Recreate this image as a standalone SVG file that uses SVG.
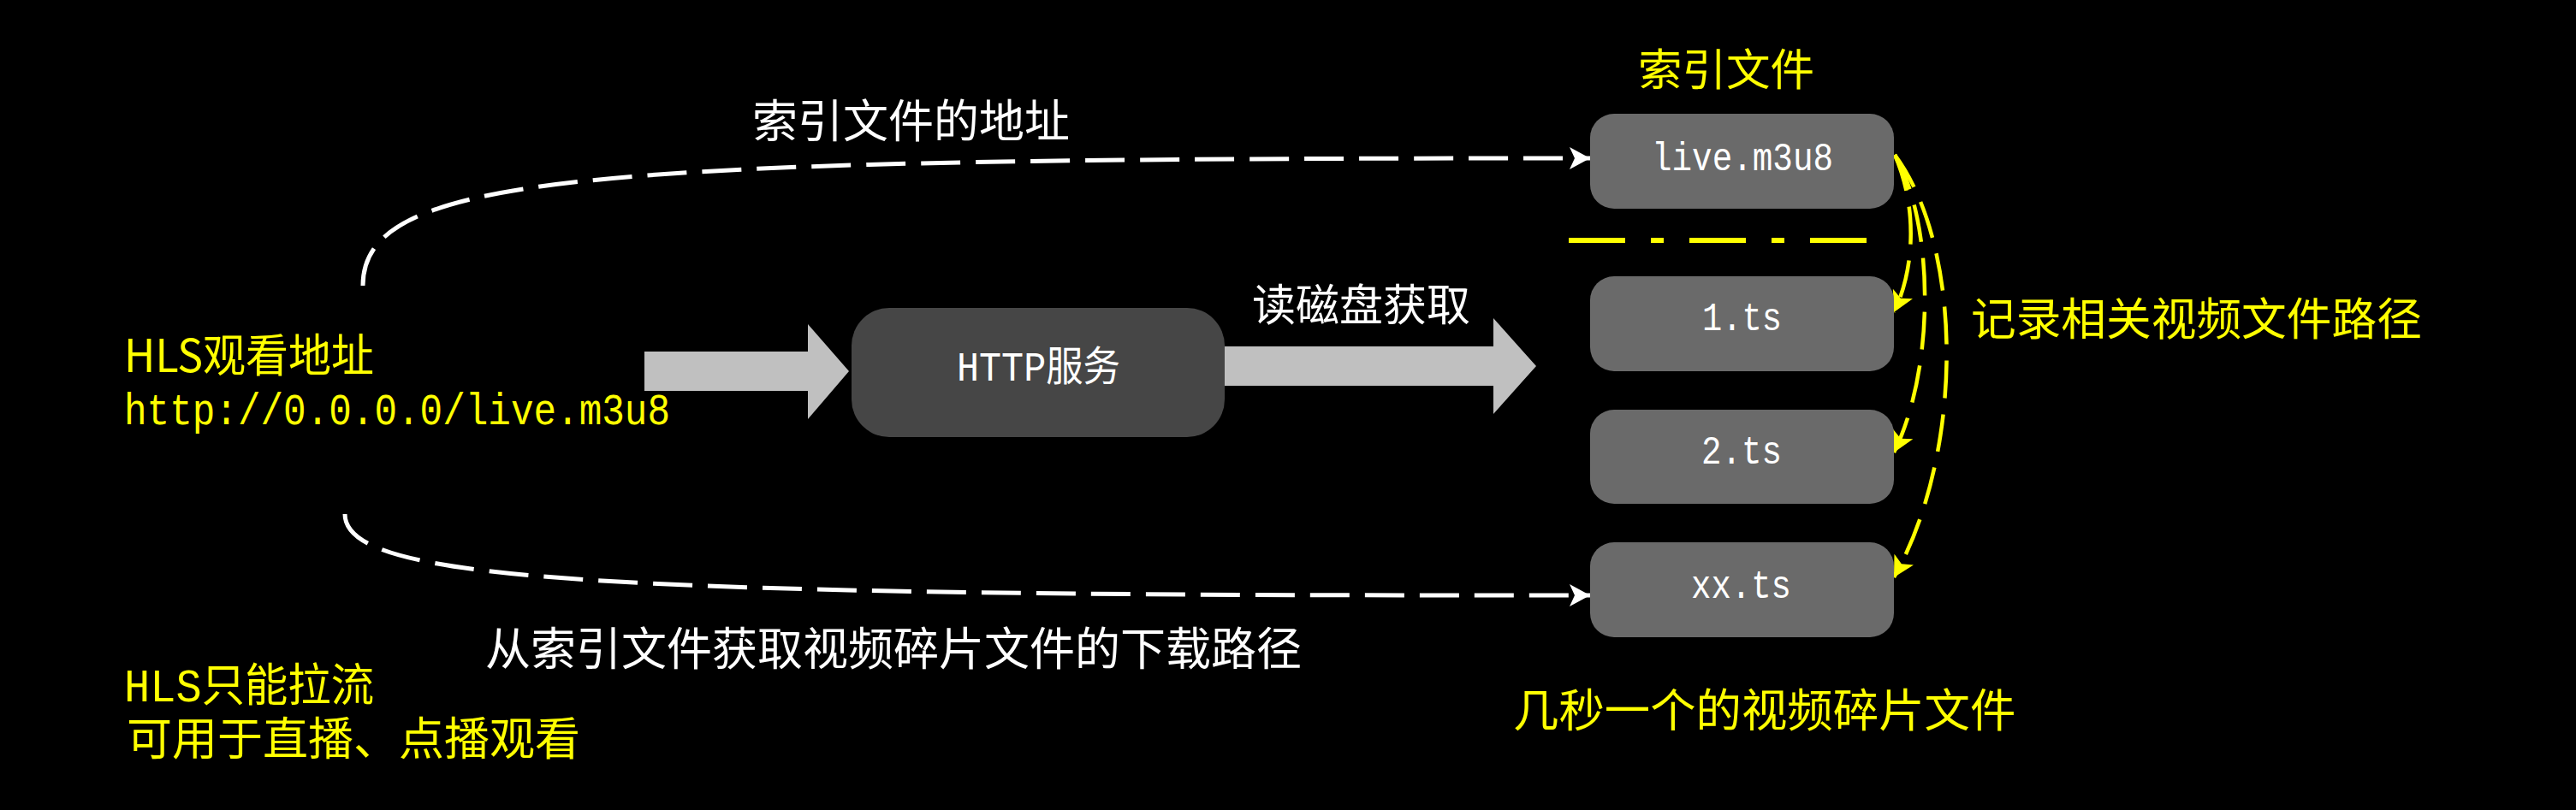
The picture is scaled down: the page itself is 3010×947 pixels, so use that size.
<svg xmlns="http://www.w3.org/2000/svg" width="3010" height="947" viewBox="0 0 3010 947">
<style>
.cjk{font-family:'Noto Sans CJK SC','Noto Sans',sans-serif}
.mono{font-family:'Liberation Mono','Noto Sans CJK SC',monospace}
.y{fill:#ff0}
.w{fill:#fff}
.box{fill:#6a6a6a}
.dark{fill:#464646}
.dashW{fill:none;stroke:#fff;stroke-width:5;stroke-dasharray:46 18}
.dashY{fill:none;stroke:#ff0;stroke-width:4.5;stroke-dasharray:44 19}
.fat{fill:#c0c0c0}
</style>
<defs>
<marker id="arrW" viewBox="0 0 26 26" markerWidth="26" markerHeight="26" refX="24" refY="13" orient="auto" markerUnits="userSpaceOnUse">
<path d="M0,0 L24,13 L0,26 L6,13 Z" fill="#fff"/>
</marker>
<marker id="arrY" viewBox="0 0 26 26" markerWidth="26" markerHeight="26" refX="24" refY="13" orient="auto" markerUnits="userSpaceOnUse">
<path d="M0,0 L24,13 L0,26 L6,13 Z" fill="#ff0"/>
</marker>
</defs>
<rect x="0" y="0" width="3010" height="947" fill="#000"/>

<g id="connectors">
<path class="dashW" d="M424,334 C424,200 700,185 1858,185" marker-end="url(#arrW)"/>
<path class="dashW" d="M403,601 C403,680 700,697 1858,696" marker-end="url(#arrW)"/>
<polygon class="fat" points="753,411 944,411 944,379 992,434 944,490 944,457 753,457"/>
<polygon class="fat" points="1431,405 1745,405 1745,372 1795,428 1745,484 1745,451 1431,451"/>
<path class="dashY" d="M2214,181 C2242,245 2236,318 2213,365" marker-end="url(#arrY)"/>
<path class="dashY" d="M2214,181 C2260,260 2262,430 2213,529" marker-end="url(#arrY)"/>
<path class="dashY" d="M2214,181 C2295,290 2295,530 2213,675" marker-end="url(#arrY)"/>
</g>

<g id="separator">
<line x1="1833" y1="281" x2="2181" y2="281" stroke="#ff0" stroke-width="6" stroke-dasharray="66 30 15 30"/>
</g>

<g id="hls-address">
<text x="145" y="435" font-size="53" class="y cjk" textLength="292" lengthAdjust="spacingAndGlyphs">HLS观看地址</text>
<text x="145" y="496" font-size="52" class="y mono" textLength="638" lengthAdjust="spacingAndGlyphs">http://0.0.0.0/live.m3u8</text>
</g>

<g id="hls-note">
<text x="145" y="820" font-size="53" class="y mono" textLength="292" lengthAdjust="spacingAndGlyphs">HLS只能拉流</text>
<text x="148" y="883" font-size="53" class="y mono">可用于直播、点播观看</text>
</g>

<g id="label-index-addr">
<text x="879" y="161" font-size="53" class="w cjk">索引文件的地址</text>
</g>

<g id="label-fragment-path">
<text x="567" y="778" font-size="53" class="w cjk">从索引文件获取视频碎片文件的下载路径</text>
</g>

<g id="http-service">
<rect x="995" y="360" width="436" height="151" rx="44" ry="44" class="dark"/>
<text x="1118" y="445" font-size="48" class="w mono" textLength="191" lengthAdjust="spacingAndGlyphs">HTTP服务</text>
</g>

<g id="label-read-disk">
<text x="1463" y="375" font-size="51" class="w cjk">读磁盘获取</text>
</g>

<g id="label-index-file">
<text x="1914" y="100" font-size="51.5" class="y cjk">索引文件</text>
</g>

<g id="node-live">
<rect x="1858" y="133" width="355" height="111" rx="28" ry="28" class="box"/>
<text x="1930" y="199" font-size="46" class="w mono" textLength="212" lengthAdjust="spacingAndGlyphs">live.m3u8</text>
</g>

<g id="node-1ts">
<rect x="1858" y="323" width="355" height="111" rx="28" ry="28" class="box"/>
<text x="1989" y="386" font-size="46" class="w mono" textLength="93" lengthAdjust="spacingAndGlyphs">1.ts</text>
</g>

<g id="node-2ts">
<rect x="1858" y="479" width="355" height="110" rx="28" ry="28" class="box"/>
<text x="1988" y="542" font-size="46" class="w mono" textLength="94" lengthAdjust="spacingAndGlyphs">2.ts</text>
</g>

<g id="node-xxts">
<rect x="1858" y="634" width="355" height="111" rx="28" ry="28" class="box"/>
<text x="1976" y="699" font-size="46" class="w mono" textLength="117" lengthAdjust="spacingAndGlyphs">xx.ts</text>
</g>

<g id="label-record">
<text x="2303" y="392" font-size="52.7" class="y cjk">记录相关视频文件路径</text>
</g>

<g id="label-fragments">
<text x="1768" y="850" font-size="53.4" class="y cjk">几秒一个的视频碎片文件</text>
</g>
</svg>
